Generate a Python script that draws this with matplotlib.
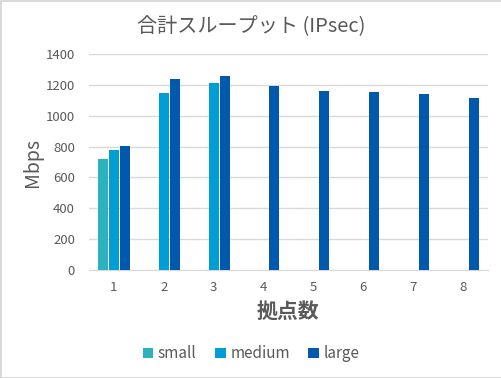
import numpy as np
import matplotlib
matplotlib.use("Agg")
import matplotlib.pyplot as plt

plt.rcParams['font.family'] = ['Noto Sans CJK JP', 'DejaVu Sans']

# data
sites = ['1', '2', '3', '4', '5', '6', '7', '8']
small = [720, np.nan, np.nan, np.nan, np.nan, np.nan, np.nan, np.nan]
medium = [780, 1150, 1210, np.nan, np.nan, np.nan, np.nan, np.nan]
large = [805, 1235, 1260, 1195, 1163, 1157, 1144, 1118]

series = [('small', small, '#2CB1BD'),
          ('medium', medium, '#019ED6'),
          ('large', large, '#0059AC')]

text_col = '#595959'
grid_col = '#D9D9D9'

fig = plt.figure(figsize=(5.02, 3.78), dpi=100, edgecolor=grid_col, linewidth=2)
ax = fig.add_axes([0.177, 0.286, 0.795, 0.571])

x = np.arange(1, len(sites) + 1)
width = 0.2
offsets = [-0.22, 0.0, 0.22]
for (name, vals, col), off in zip(series, offsets):
    ax.bar(x + off, vals, width=width, color=col, label=name, zorder=3)

ax.set_xlim(0.5, 8.5)
ax.set_ylim(0, 1400)
ax.set_yticks(range(0, 1401, 200))
ax.set_xticks(x)
ax.set_xticklabels(sites)
ax.grid(axis='y', color=grid_col, linewidth=1, zorder=0)
for s in ['top', 'left', 'right']:
    ax.spines[s].set_visible(False)
ax.spines['bottom'].set_color(grid_col)
ax.tick_params(length=0, colors=text_col, labelsize=9.5)
ax.tick_params(axis='x', pad=8)
ax.tick_params(axis='y', pad=10)

# title is centred on the whole figure, not the plot area
fig.text(0.5, 0.93, '合計スループット (IPsec)', fontsize=14.5, color=text_col,
         ha='center', va='center')
ax.set_ylabel('Mbps', fontsize=14, color=text_col, labelpad=2)
ax.set_xlabel('拠点数', fontsize=15, color=text_col, fontweight='bold', labelpad=5)

fig.legend(loc='center', bbox_to_anchor=(0.5, 0.064), ncol=3, frameon=False,
           fontsize=11, labelcolor=text_col, handlelength=0.7, handleheight=0.7,
           handletextpad=0.3, columnspacing=1.2)

plt.savefig('out.png', dpi=100)
